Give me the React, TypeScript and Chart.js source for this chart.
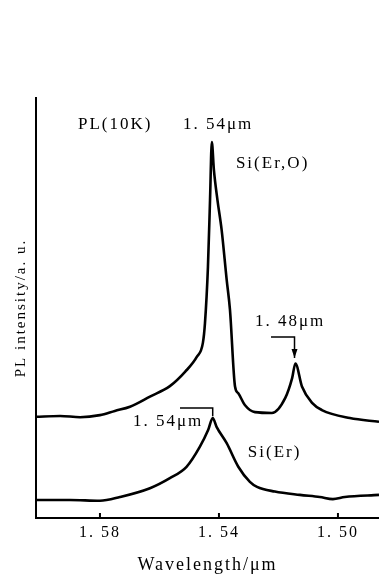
import React, { useEffect, useRef } from 'react';
import { Chart, registerables } from 'chart.js';

Chart.register(...registerables);

// Si(Er,O) spectrum (wavelength in µm, intensity in a.u.)
const siErOWavelength = [
  1.6015, 1.5934, 1.5867, 1.58, 1.575, 1.5699, 1.5632, 1.5565, 1.5514, 1.5474,
  1.5454, 1.5447, 1.5437, 1.543, 1.5424, 1.5417, 1.5405, 1.5391, 1.5374, 1.5363,
  1.5346, 1.5335, 1.5313, 1.5279, 1.5222, 1.5177, 1.5154, 1.5143, 1.5121, 1.5087,
  1.5054, 1.496, 1.4862,
];
const siErOIntensity = [
  24.1, 24.3, 24.0, 24.5, 25.5, 26.5, 28.9, 31.4, 34.8, 38.4,
  41.7, 46.4, 59.8, 75.7, 89.5, 82.9, 75.7, 68.6, 56.7, 49.6,
  31.3, 29.7, 26.9, 25.2, 25.0, 28.6, 33.3, 36.8, 31.3, 27.4,
  25.7, 23.8, 22.9,
];

// Si(Er) spectrum
const siErWavelength = [
  1.6015, 1.5901, 1.58, 1.5733, 1.5632, 1.5565, 1.5509, 1.5464, 1.5436, 1.5421,
  1.5408, 1.5374, 1.5335, 1.5296, 1.5272, 1.5212, 1.5128, 1.5061, 1.5017, 1.4977,
  1.4862,
];
const siErIntensity = [
  4.3, 4.3, 4.1, 5.0, 7.1, 9.5, 12.2, 17.0, 21.0, 23.8,
  21.7, 17.8, 12.2, 8.6, 7.4, 6.3, 5.5, 5.0, 4.5, 5.0,
  5.5,
];

// Pointer lines to the marked peaks
const pointer148Wavelength = [1.5225, 1.5146, 1.5146];
const pointer148Intensity = [43.1, 43.1, 38.1];
const pointer154Wavelength = [1.5531, 1.5421, 1.5421];
const pointer154Intensity = [26.2, 26.2, 24.2];

// Axis ticks
const xTickValues = [1.58, 1.54, 1.5];
const xMin = 1.4862;
const xMax = 1.6015;

// Text annotations (anchored at left-middle, in data coordinates)
const annotationTexts = ['PL(10K)', '1. 54μm', 'Si(Er,O)', '1. 48μm', '1. 54μm', 'Si(Er)'];
const annotationWavelengths = [1.5874, 1.5521, 1.5343, 1.5279, 1.5689, 1.5303];
const annotationIntensities = [93.6, 93.6, 84.5, 46.7, 22.9, 15.5];

const FONT = '"Liberation Serif", "DejaVu Serif", serif';

const toPoints = (xs: number[], ys: number[]) => xs.map((x, i) => ({ x, y: ys[i] }));

const overlayPlugin = {
  id: 'overlay',
  beforeDraw(chart: any) {
    try { chart.ctx.letterSpacing = '2px'; } catch (e) { /* ignore */ }
  },
  afterDraw(chart: any) {
    const { ctx, chartArea } = chart;
    const xs = chart.scales.x;
    const ys = chart.scales.y;
    ctx.save();
    ctx.strokeStyle = '#000';
    ctx.fillStyle = '#000';
    ctx.lineWidth = 2;
    // inward tick marks
    xTickValues.forEach((v) => {
      const px = xs.getPixelForValue(v);
      ctx.beginPath();
      ctx.moveTo(px, chartArea.bottom);
      ctx.lineTo(px, chartArea.bottom - 5);
      ctx.stroke();
    });
    // arrowhead for 1.48 pointer
    const n = pointer148Wavelength.length - 1;
    const ax = xs.getPixelForValue(pointer148Wavelength[n]);
    const ay = ys.getPixelForValue(pointer148Intensity[n]);
    ctx.beginPath();
    ctx.moveTo(ax - 3, ay - 9);
    ctx.lineTo(ax + 3, ay - 9);
    ctx.lineTo(ax, ay);
    ctx.closePath();
    ctx.fill();
    // text labels
    ctx.font = `17px ${FONT}`;
    ctx.textAlign = 'left';
    ctx.textBaseline = 'middle';
    annotationTexts.forEach((t, i) => {
      ctx.fillText(t, xs.getPixelForValue(annotationWavelengths[i]), ys.getPixelForValue(annotationIntensities[i]));
    });
    ctx.restore();
  },
};

export default function App() {
  const canvasRef = useRef<HTMLCanvasElement | null>(null);

  useEffect(() => {
    document.body.style.margin = '0';
    const canvas = canvasRef.current;
    if (!canvas) return;
    const lineStyle = {
      borderColor: '#000',
      backgroundColor: '#000',
      pointRadius: 0,
      fill: false,
    };
    const chart = new Chart(canvas, {
      type: 'line',
      data: {
        datasets: [
          {
            ...lineStyle,
            label: 'Si(Er,O)',
            data: toPoints(siErOWavelength, siErOIntensity),
            borderWidth: 2.6,
            cubicInterpolationMode: 'monotone',
          },
          {
            ...lineStyle,
            label: 'Si(Er)',
            data: toPoints(siErWavelength, siErIntensity),
            borderWidth: 2.6,
            cubicInterpolationMode: 'monotone',
          },
          {
            ...lineStyle,
            label: 'pointer 1.48',
            data: toPoints(pointer148Wavelength, pointer148Intensity),
            borderWidth: 1.5,
            tension: 0,
          },
          {
            ...lineStyle,
            label: 'pointer 1.54',
            data: toPoints(pointer154Wavelength, pointer154Intensity),
            borderWidth: 1.5,
            tension: 0,
          },
        ],
      } as any,
      options: {
        animation: false,
        responsive: false,
        devicePixelRatio: 1,
        layout: { padding: { top: 98, right: 0, left: 0, bottom: 0 } },
        plugins: { legend: { display: false }, tooltip: { enabled: false } },
        scales: {
          x: {
            type: 'linear',
            reverse: true,
            min: xMin,
            max: xMax,
            afterBuildTicks: (s: any) => {
              s.ticks = xTickValues.map((v) => ({ value: v }));
            },
            afterFit: (s: any) => {
              s.height = 62;
            },
            grid: { display: false, drawTicks: false },
            border: { display: true, color: '#000', width: 2 },
            ticks: {
              color: '#000',
              font: { family: FONT, size: 16 },
              padding: 5,
              maxRotation: 0,
              autoSkip: false,
              callback: (v: any) => Number(v).toFixed(2).replace('.', '. '),
            },
            title: {
              display: true,
              text: 'Wavelength/μm',
              color: '#000',
              font: { family: FONT, size: 18 },
              padding: { top: 0, bottom: 4 },
            },
          },
          y: {
            type: 'linear',
            min: 0,
            max: 100,
            afterFit: (s: any) => {
              s.width = 36;
            },
            grid: { display: false, drawTicks: false },
            border: { display: true, color: '#000', width: 2 },
            ticks: { display: false },
            title: {
              display: true,
              text: 'PL intensity/a. u.',
              color: '#000',
              font: { family: FONT, size: 15 },
              padding: { top: 12, bottom: 0 },
            },
          },
        },
      } as any,
      plugins: [overlayPlugin],
    });
    return () => chart.destroy();
  }, []);

  return (
    <div style={{ position: 'fixed', left: 0, top: 0, width: 379, height: 580, background: '#fff' }}>
      <canvas ref={canvasRef} width={379} height={580} style={{ width: 379, height: 580, display: 'block' }} />
    </div>
  );
}
